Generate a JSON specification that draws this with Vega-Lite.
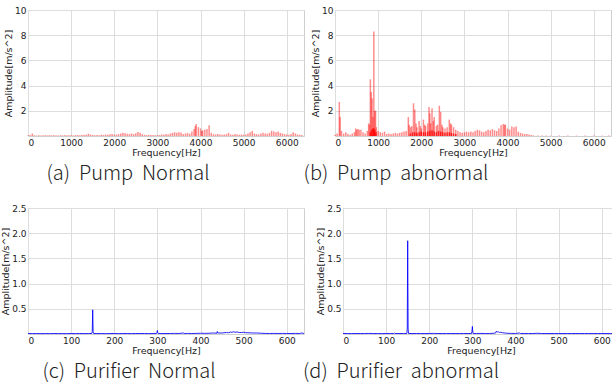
{
  "$schema": "https://vega.github.io/schema/vega-lite/v6.json",
  "padding": {"left": 0, "top": 5, "right": 0, "bottom": 0},
  "background": "white",
  "config": {
    "view": {"stroke": "#cfcfcf", "strokeWidth": 1},
    "axis": {"labelFont": "DejaVu Sans", "labelFontSize": 9, "labelColor": "#222", "titleFont": "DejaVu Sans", "titleFontSize": 9.5, "titleFontWeight": "normal", "titleColor": "#222", "gridColor": "#dddddd", "domain": false, "ticks": false, "labelPadding": 2, "labelOverlap": false, "titlePadding": 1},
    "axisX": {"titlePadding": 0, "labelPadding": 2},
    "title": {"font": "Noto Sans CJK KR", "fontSize": 20, "fontWeight": 300, "color": "#222", "orient": "bottom", "offset": 7}
  },
  "datasets": {
    "pumpN": [
      {"f":0,"a":0.05},{"f":50,"a":0.08},{"f":100,"a":0.2},{"f":150,"a":0.06},{"f":200,"a":0.04},{"f":250,"a":0.05},{"f":300,"a":0.04},{"f":350,"a":0.05},{"f":400,"a":0.06},{"f":450,"a":0.05},{"f":500,"a":0.07},{"f":550,"a":0.05},{"f":600,"a":0.06},{"f":650,"a":0.05},{"f":700,"a":0.04},{"f":750,"a":0.06},{"f":800,"a":0.05},{"f":850,"a":0.07},{"f":900,"a":0.06},{"f":950,"a":0.05},{"f":1000,"a":0.06},{"f":1050,"a":0.05},{"f":1100,"a":0.07},{"f":1150,"a":0.08},{"f":1200,"a":0.06},{"f":1250,"a":0.07},{"f":1300,"a":0.09},{"f":1350,"a":0.1},{"f":1400,"a":0.18},{"f":1450,"a":0.12},{"f":1500,"a":0.08},{"f":1550,"a":0.06},{"f":1600,"a":0.07},{"f":1650,"a":0.06},{"f":1700,"a":0.1},{"f":1750,"a":0.08},{"f":1800,"a":0.12},{"f":1850,"a":0.1},{"f":1900,"a":0.13},{"f":1950,"a":0.15},{"f":2000,"a":0.1},{"f":2050,"a":0.12},{"f":2100,"a":0.15},{"f":2150,"a":0.2},{"f":2200,"a":0.25},{"f":2250,"a":0.22},{"f":2300,"a":0.18},{"f":2350,"a":0.15},{"f":2400,"a":0.2},{"f":2450,"a":0.15},{"f":2500,"a":0.22},{"f":2550,"a":0.32},{"f":2600,"a":0.25},{"f":2650,"a":0.15},{"f":2700,"a":0.1},{"f":2750,"a":0.08},{"f":2800,"a":0.1},{"f":2850,"a":0.07},{"f":2900,"a":0.08},{"f":2950,"a":0.06},{"f":3000,"a":0.07},{"f":3050,"a":0.08},{"f":3100,"a":0.12},{"f":3150,"a":0.1},{"f":3200,"a":0.15},{"f":3250,"a":0.12},{"f":3300,"a":0.2},{"f":3350,"a":0.25},{"f":3400,"a":0.3},{"f":3450,"a":0.25},{"f":3500,"a":0.3},{"f":3550,"a":0.28},{"f":3600,"a":0.15},{"f":3650,"a":0.2},{"f":3700,"a":0.25},{"f":3750,"a":0.18},{"f":3800,"a":0.35},{"f":3850,"a":0.55},{"f":3880,"a":0.8},{"f":3900,"a":0.95},{"f":3950,"a":0.7},{"f":4000,"a":0.6},{"f":4030,"a":0.4},{"f":4050,"a":0.45},{"f":4100,"a":0.5},{"f":4150,"a":0.55},{"f":4200,"a":0.85},{"f":4250,"a":0.25},{"f":4300,"a":0.15},{"f":4350,"a":0.12},{"f":4400,"a":0.15},{"f":4450,"a":0.12},{"f":4500,"a":0.1},{"f":4550,"a":0.12},{"f":4600,"a":0.15},{"f":4650,"a":0.25},{"f":4700,"a":0.12},{"f":4750,"a":0.1},{"f":4800,"a":0.15},{"f":4850,"a":0.12},{"f":4900,"a":0.1},{"f":4950,"a":0.12},{"f":5000,"a":0.1},{"f":5050,"a":0.12},{"f":5100,"a":0.2},{"f":5150,"a":0.3},{"f":5200,"a":0.4},{"f":5250,"a":0.2},{"f":5300,"a":0.15},{"f":5350,"a":0.12},{"f":5400,"a":0.2},{"f":5450,"a":0.25},{"f":5500,"a":0.2},{"f":5550,"a":0.18},{"f":5600,"a":0.25},{"f":5650,"a":0.42},{"f":5700,"a":0.35},{"f":5750,"a":0.3},{"f":5800,"a":0.35},{"f":5850,"a":0.25},{"f":5900,"a":0.2},{"f":5950,"a":0.15},{"f":6000,"a":0.12},{"f":6050,"a":0.1},{"f":6100,"a":0.15},{"f":6150,"a":0.3},{"f":6200,"a":0.2},{"f":6250,"a":0.12},{"f":6300,"a":0.1},{"f":6350,"a":0.08}
    ],
    "pumpA": [
      {"f":0,"a":0.1},{"f":50,"a":0.2},{"f":100,"a":2.7},{"f":120,"a":1.5},{"f":150,"a":0.4},{"f":200,"a":0.2},{"f":250,"a":0.3},{"f":300,"a":0.15},{"f":350,"a":0.1},{"f":400,"a":0.2},{"f":450,"a":0.3},{"f":480,"a":0.6},{"f":500,"a":0.5},{"f":530,"a":0.55},{"f":560,"a":0.5},{"f":600,"a":0.5},{"f":650,"a":0.3},{"f":700,"a":0.2},{"f":750,"a":0.4},{"f":780,"a":1.0},{"f":800,"a":0.9},{"f":820,"a":4.5},{"f":840,"a":3.5},{"f":860,"a":3.0},{"f":880,"a":1.5},{"f":900,"a":8.3},{"f":920,"a":2.0},{"f":940,"a":2.0},{"f":960,"a":0.7},{"f":1000,"a":0.4},{"f":1050,"a":0.3},{"f":1100,"a":0.25},{"f":1150,"a":0.35},{"f":1200,"a":0.15},{"f":1250,"a":0.2},{"f":1300,"a":0.15},{"f":1350,"a":0.2},{"f":1400,"a":0.25},{"f":1450,"a":0.2},{"f":1500,"a":0.25},{"f":1550,"a":0.3},{"f":1600,"a":0.35},{"f":1650,"a":0.4},{"f":1700,"a":1.5},{"f":1720,"a":0.9},{"f":1750,"a":0.7},{"f":1780,"a":0.8},{"f":1820,"a":2.6},{"f":1850,"a":2.1},{"f":1880,"a":1.0},{"f":1900,"a":0.7},{"f":1950,"a":1.2},{"f":1980,"a":0.8},{"f":2000,"a":0.6},{"f":2050,"a":1.3},{"f":2080,"a":0.9},{"f":2100,"a":0.8},{"f":2150,"a":1.0},{"f":2180,"a":2.3},{"f":2200,"a":1.8},{"f":2220,"a":1.0},{"f":2250,"a":2.2},{"f":2280,"a":1.2},{"f":2300,"a":1.5},{"f":2350,"a":0.8},{"f":2380,"a":0.9},{"f":2420,"a":2.4},{"f":2450,"a":1.9},{"f":2480,"a":0.9},{"f":2500,"a":0.7},{"f":2550,"a":0.6},{"f":2600,"a":0.7},{"f":2650,"a":1.3},{"f":2680,"a":1.0},{"f":2700,"a":0.9},{"f":2750,"a":0.7},{"f":2800,"a":0.5},{"f":2850,"a":0.4},{"f":2900,"a":0.3},{"f":2950,"a":0.25},{"f":3000,"a":0.3},{"f":3050,"a":0.35},{"f":3100,"a":0.3},{"f":3150,"a":0.35},{"f":3200,"a":0.3},{"f":3250,"a":0.4},{"f":3300,"a":0.5},{"f":3350,"a":0.45},{"f":3400,"a":0.35},{"f":3450,"a":0.3},{"f":3500,"a":0.4},{"f":3550,"a":0.5},{"f":3600,"a":0.45},{"f":3650,"a":0.55},{"f":3700,"a":0.45},{"f":3750,"a":0.4},{"f":3800,"a":0.6},{"f":3850,"a":0.85},{"f":3900,"a":0.95},{"f":3930,"a":0.9},{"f":3950,"a":0.9},{"f":4000,"a":0.6},{"f":4050,"a":0.5},{"f":4100,"a":0.75},{"f":4150,"a":0.7},{"f":4200,"a":0.75},{"f":4250,"a":0.35},{"f":4300,"a":0.25},{"f":4350,"a":0.2},{"f":4400,"a":0.15},{"f":4450,"a":0.15},{"f":4500,"a":0.12},{"f":4550,"a":0.08},{"f":4600,"a":0.05},{"f":4700,"a":0.04},{"f":4800,"a":0.04},{"f":4900,"a":0.03},{"f":5000,"a":0.03},{"f":5200,"a":0.03},{"f":5400,"a":0.03},{"f":5600,"a":0.03},{"f":5800,"a":0.03},{"f":6000,"a":0.03},{"f":6200,"a":0.03},{"f":6350,"a":0.03}
    ],
    "pumpAcore": [
      {"f":820,"a":0.3},{"f":850,"a":0.5},{"f":880,"a":0.6},{"f":900,"a":0.6},{"f":920,"a":0.5},{"f":950,"a":0.3},{"f":1750,"a":0.2},{"f":1800,"a":0.3},{"f":1850,"a":0.3},{"f":1900,"a":0.25},{"f":1950,"a":0.3},{"f":2000,"a":0.35},{"f":2050,"a":0.3},{"f":2100,"a":0.3},{"f":2150,"a":0.35},{"f":2200,"a":0.4},{"f":2250,"a":0.45},{"f":2300,"a":0.35},{"f":2350,"a":0.3},{"f":2400,"a":0.4},{"f":2450,"a":0.35},{"f":2500,"a":0.3},{"f":2550,"a":0.25},{"f":2600,"a":0.3},{"f":2650,"a":0.3},{"f":2700,"a":0.25},{"f":2750,"a":0.2},{"f":2800,"a":0.15}
    ],
    "purN": [
      {"f":0,"a":0.01},{"f":10,"a":0.008},{"f":20,"a":0.01},{"f":30,"a":0.007},{"f":40,"a":0.009},{"f":50,"a":0.008},{"f":60,"a":0.01},{"f":70,"a":0.008},{"f":80,"a":0.009},{"f":90,"a":0.007},{"f":100,"a":0.01},{"f":110,"a":0.008},{"f":120,"a":0.01},{"f":130,"a":0.008},{"f":140,"a":0.009},{"f":148,"a":0.01},{"f":149,"a":0.05},{"f":150,"a":0.48},{"f":151,"a":0.05},{"f":152,"a":0.01},{"f":160,"a":0.008},{"f":170,"a":0.01},{"f":180,"a":0.008},{"f":190,"a":0.009},{"f":200,"a":0.01},{"f":210,"a":0.008},{"f":220,"a":0.009},{"f":230,"a":0.01},{"f":240,"a":0.008},{"f":250,"a":0.01},{"f":260,"a":0.009},{"f":270,"a":0.01},{"f":280,"a":0.008},{"f":290,"a":0.01},{"f":298,"a":0.01},{"f":299,"a":0.03},{"f":300,"a":0.07},{"f":301,"a":0.02},{"f":302,"a":0.01},{"f":310,"a":0.009},{"f":320,"a":0.01},{"f":330,"a":0.01},{"f":340,"a":0.012},{"f":350,"a":0.01},{"f":360,"a":0.02},{"f":362,"a":0.01},{"f":370,"a":0.012},{"f":380,"a":0.01},{"f":390,"a":0.012},{"f":400,"a":0.015},{"f":410,"a":0.012},{"f":420,"a":0.015},{"f":430,"a":0.02},{"f":438,"a":0.015},{"f":439,"a":0.05},{"f":440,"a":0.02},{"f":450,"a":0.02},{"f":460,"a":0.03},{"f":465,"a":0.025},{"f":470,"a":0.04},{"f":473,"a":0.03},{"f":476,"a":0.045},{"f":480,"a":0.035},{"f":485,"a":0.04},{"f":490,"a":0.03},{"f":495,"a":0.03},{"f":500,"a":0.035},{"f":505,"a":0.025},{"f":510,"a":0.025},{"f":520,"a":0.02},{"f":530,"a":0.02},{"f":540,"a":0.015},{"f":550,"a":0.012},{"f":560,"a":0.01},{"f":570,"a":0.012},{"f":580,"a":0.01},{"f":590,"a":0.012},{"f":600,"a":0.01},{"f":610,"a":0.01},{"f":620,"a":0.012},{"f":630,"a":0.01},{"f":635,"a":0.02},{"f":640,"a":0.01}
    ],
    "purA": [
      {"f":0,"a":0.01},{"f":10,"a":0.01},{"f":20,"a":0.008},{"f":30,"a":0.01},{"f":40,"a":0.009},{"f":50,"a":0.01},{"f":60,"a":0.012},{"f":70,"a":0.009},{"f":80,"a":0.01},{"f":90,"a":0.008},{"f":100,"a":0.01},{"f":110,"a":0.01},{"f":118,"a":0.01},{"f":119,"a":0.02},{"f":120,"a":0.02},{"f":121,"a":0.01},{"f":130,"a":0.009},{"f":140,"a":0.01},{"f":148,"a":0.01},{"f":149,"a":0.1},{"f":150,"a":1.85},{"f":151,"a":0.1},{"f":152,"a":0.01},{"f":160,"a":0.009},{"f":170,"a":0.01},{"f":180,"a":0.01},{"f":190,"a":0.009},{"f":200,"a":0.01},{"f":210,"a":0.012},{"f":220,"a":0.01},{"f":230,"a":0.009},{"f":240,"a":0.01},{"f":250,"a":0.01},{"f":260,"a":0.009},{"f":270,"a":0.01},{"f":280,"a":0.01},{"f":290,"a":0.01},{"f":298,"a":0.01},{"f":299,"a":0.05},{"f":300,"a":0.15},{"f":301,"a":0.04},{"f":302,"a":0.01},{"f":310,"a":0.01},{"f":320,"a":0.012},{"f":330,"a":0.01},{"f":340,"a":0.01},{"f":350,"a":0.015},{"f":354,"a":0.02},{"f":355,"a":0.05},{"f":358,"a":0.04},{"f":360,"a":0.045},{"f":363,"a":0.03},{"f":366,"a":0.035},{"f":370,"a":0.025},{"f":375,"a":0.02},{"f":380,"a":0.015},{"f":390,"a":0.012},{"f":400,"a":0.01},{"f":410,"a":0.02},{"f":412,"a":0.01},{"f":420,"a":0.01},{"f":430,"a":0.01},{"f":440,"a":0.009},{"f":450,"a":0.015},{"f":460,"a":0.01},{"f":470,"a":0.009},{"f":480,"a":0.01},{"f":490,"a":0.01},{"f":500,"a":0.009},{"f":510,"a":0.01},{"f":520,"a":0.01},{"f":530,"a":0.009},{"f":540,"a":0.01},{"f":550,"a":0.01},{"f":560,"a":0.009},{"f":570,"a":0.01},{"f":580,"a":0.01},{"f":590,"a":0.009},{"f":600,"a":0.01},{"f":610,"a":0.01},{"f":620,"a":0.009},{"f":630,"a":0.01},{"f":640,"a":0.01}
    ]
  },
  "vconcat": [
    {
      "spacing": -2,
      "hconcat": [
        {
          "width": 276, "height": 126,
          "title": {"text": "(a)\u00a0\u00a0Pump\u00a0\u00a0Normal", "dx": -38},
          "data": {"name": "pumpN"},
          "mark": {"type": "rule", "color": "#ff0000", "opacity": 0.45, "strokeWidth": 1.5},
          "encoding": {
            "x": {"field": "f", "type": "quantitative", "scale": {"domain": [0, 6400], "nice": false}, "axis": {"title": "Frequency[Hz]", "values": [0,1000,2000,3000,4000,5000,6000], "format": "d"}},
            "y": {"field": "a", "type": "quantitative", "scale": {"domain": [0, 10], "nice": false}, "axis": {"title": "Amplitude[m/s^2]", "values": [2,4,6,8,10], "format": "d"}},
            "y2": {"datum": 0}
          }
        },
        {
          "width": 276, "height": 126,
          "title": {"text": "(b)\u00a0\u00a0Pump\u00a0\u00a0abnormal", "dx": -77},
          "encoding": {
            "x": {"field": "f", "type": "quantitative", "scale": {"domain": [0, 6400], "nice": false}, "axis": {"title": "Frequency[Hz]", "values": [0,1000,2000,3000,4000,5000,6000], "format": "d"}},
            "y": {"field": "a", "type": "quantitative", "scale": {"domain": [0, 10], "nice": false}, "axis": {"title": "Amplitude[m/s^2]", "values": [2,4,6,8,10], "format": "d"}},
            "y2": {"datum": 0}
          },
          "layer": [
            {
              "data": {"name": "pumpA"},
              "mark": {"type": "rule", "color": "#ff0000", "opacity": 0.45, "strokeWidth": 1.5}
            },
            {
              "data": {"name": "pumpAcore"},
              "mark": {"type": "rule", "color": "#ff0000", "opacity": 0.8, "strokeWidth": 1.5}
            }
          ]
        }
      ]
    },
    {
      "spacing": -5,
      "hconcat": [
        {
          "width": 276, "height": 126,
          "title": {"text": "(c)\u00a0\u00a0Purifier\u00a0\u00a0Normal", "dx": -37},
          "data": {"name": "purN"},
          "mark": {"type": "line", "color": "#0000ff", "strokeWidth": 1, "opacity": 0.85},
          "encoding": {
            "x": {"field": "f", "type": "quantitative", "scale": {"domain": [0, 640], "nice": false}, "axis": {"title": "Frequency[Hz]", "values": [0,100,200,300,400,500,600], "format": "d"}},
            "y": {"field": "a", "type": "quantitative", "scale": {"domain": [0, 2.5], "nice": false}, "axis": {"title": "Amplitude[m/s^2]", "values": [0.5,1,1.5,2,2.5], "format": ".1f"}}
          }
        },
        {
          "width": 276, "height": 126,
          "title": {"text": "(d)\u00a0\u00a0Purifier\u00a0\u00a0abnormal", "dx": -80},
          "data": {"name": "purA"},
          "mark": {"type": "line", "color": "#0000ff", "strokeWidth": 1, "opacity": 0.85},
          "encoding": {
            "x": {"field": "f", "type": "quantitative", "scale": {"domain": [0, 640], "nice": false}, "axis": {"title": "Frequency[Hz]", "values": [0,100,200,300,400,500,600], "format": "d"}},
            "y": {"field": "a", "type": "quantitative", "scale": {"domain": [0, 2.5], "nice": false}, "axis": {"title": "Amplitude[m/s^2]", "values": [0.5,1,1.5,2,2.5], "format": ".1f"}}
          }
        }
      ]
    }
  ],
  "spacing": 19
}
